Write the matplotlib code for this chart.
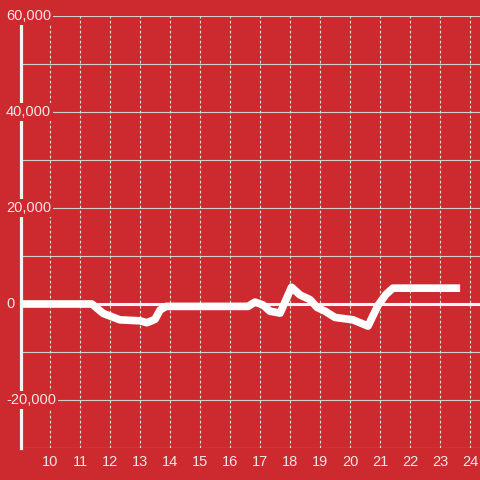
import matplotlib
matplotlib.use("Agg")
import matplotlib.pyplot as plt

# hour of day vs value
hours = [9.0, 11.4, 11.77, 12.33, 13.0, 13.23, 13.5, 13.67, 13.87, 16.6, 16.83, 17.1,
         17.33, 17.67, 18.05, 18.33, 18.67, 18.9, 19.17, 19.5, 20.1, 20.6, 20.93, 21.2,
         21.43, 23.67]
values = [0, 0, -1950, -3300, -3500, -3900, -3200, -1250, -500, -500, 400, -200,
          -1500, -1900, 3500, 1900, 900, -700, -1500, -2800, -3300, -4600, -300, 2000,
          3300, 3300]
xticks = list(range(10, 25))
ylabels = [60000, 40000, 20000, 0, -20000]

red = '#cc2a2f'
txt = '#f2e6e6'
plt.rcParams['font.family'] = ['Liberation Sans', 'DejaVu Sans']

fig = plt.figure(figsize=(4.8, 4.8), dpi=100, facecolor=red)
ax = fig.add_axes([21/480, 32/480, 459/480, 432/480], facecolor=red)
ax.set_xlim(9.033, 24.333)
ax.set_ylim(-30000, 60000)

# grid
for y in range(-30000, 60001, 10000):
    if y == 0:
        ax.axhline(y, color='#f4f4f4', lw=2.2, zorder=2)
    else:
        ax.axhline(y, color='#d0d0d0', lw=0.8, zorder=1)
for x in xticks:
    ax.axvline(x, color='#e0e0e0', lw=0.8, linestyle=(0, (2.5, 2)), zorder=1)

ax.plot(hours, values, color='white', lw=5.5, solid_joinstyle='round',
        solid_capstyle='butt', zorder=3)

for s in ['top', 'right', 'bottom']:
    ax.spines[s].set_visible(False)
ax.spines['left'].set_color('#f4f4f4')
ax.spines['left'].set_linewidth(2.3)
ax.spines['left'].set_zorder(4)

ax.set_xticks(xticks)
ax.set_xticklabels([str(x) for x in xticks])
ax.tick_params(axis='x', length=0, pad=5, labelsize=10.5, labelcolor=txt)
ax.set_yticks([])

tr = ax.get_yaxis_transform()
for v in ylabels:
    ax.text(-15/459, v, f'{v:,}', transform=tr, ha='left', va='center',
            fontsize=10.5, color=txt, zorder=6, clip_on=False,
            bbox=dict(facecolor=red, edgecolor='none', pad=1.5))

fig.savefig('out.png', dpi=100, facecolor=red)
